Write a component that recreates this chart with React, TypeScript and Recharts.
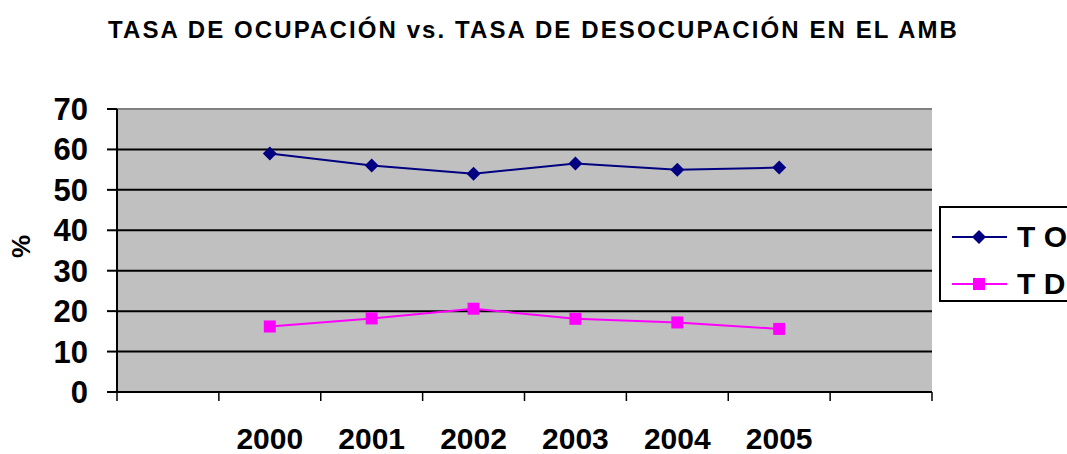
import React from "react";
import {
  LineChart,
  Line,
  XAxis,
  YAxis,
  CartesianGrid,
  ReferenceLine,
} from "recharts";

const years = ["2000", "2001", "2002", "2003", "2004", "2005"];
const tasaOcupacion = [59, 56, 54, 56.5, 55, 55.5];
const tasaDesocupacion = [16.2, 18.2, 20.6, 18.1, 17.2, 15.6];
const yTicks = [0, 10, 20, 30, 40, 50, 60, 70];
// category slots: one empty slot on each side of the six years
const slotEdges = [0, 1, 2, 3, 4, 5, 6, 7, 8];

const FONT = "'Liberation Sans', Arial, sans-serif";
const NAVY = "#000080";
const MAGENTA = "#FF00FF";

const data = years.map((year, i) => ({
  pos: i + 1.5,
  year,
  to: tasaOcupacion[i],
  td: tasaDesocupacion[i],
}));
const yearCenters = data.map((d) => d.pos);

const Diamond = (props: any) => {
  const { cx, cy, index } = props;
  if (cx == null || cy == null) return null;
  const r = 7;
  return (
    <polygon
      key={`d-${index}`}
      points={`${cx},${cy - r} ${cx + r},${cy} ${cx},${cy + r} ${cx - r},${cy}`}
      fill={NAVY}
    />
  );
};

const Square = (props: any) => {
  const { cx, cy, index } = props;
  if (cx == null || cy == null) return null;
  return <rect key={`s-${index}`} x={cx - 6} y={cy - 6} width={12} height={12} fill={MAGENTA} />;
};

export default function App() {
  return (
    <div
      style={{
        position: "absolute",
        left: 0,
        top: 0,
        width: 1067,
        height: 454,
        background: "#fff",
        fontFamily: FONT,
        overflow: "hidden",
      }}
    >
      <div
        style={{
          position: "absolute",
          left: 0,
          width: 1067,
          top: 16,
          textAlign: "center",
          fontWeight: "bold",
          fontSize: 24,
          letterSpacing: 2.1,
          color: "#000",
          whiteSpace: "nowrap",
        }}
      >
        TASA DE OCUPACIÓN vs. TASA DE DESOCUPACIÓN EN EL AMB
      </div>

      <LineChart
        width={1067}
        height={454}
        data={data}
        margin={{ top: 109, right: 135, bottom: 0, left: 0 }}
        style={{ position: "absolute", left: 0, top: 0 }}
      >
        <CartesianGrid
          fill="#C0C0C0"
          stroke="#000"
          strokeWidth={2}
          vertical={false}
        />
        <ReferenceLine y={70} stroke="#808080" strokeWidth={2} />
        <ReferenceLine x={8} stroke="#808080" strokeWidth={2} />
        <XAxis
          xAxisId="slots"
          dataKey="pos"
          type="number"
          domain={[0, 8]}
          ticks={slotEdges}
          interval={0}
          tickFormatter={() => ""}
          tickSize={9}
          height={10}
          axisLine={{ stroke: "#000", strokeWidth: 2 }}
          tickLine={{ stroke: "#000", strokeWidth: 1.5 }}
        />
        <XAxis
          xAxisId="years"
          dataKey="pos"
          type="number"
          domain={[0, 8]}
          ticks={yearCenters}
          tickFormatter={(v: number) => years[Math.round(v - 1.5)] ?? ""}
          axisLine={false}
          tickLine={false}
          tickSize={0}
          tickMargin={26}
          height={52}
          interval={0}
          tick={{ fontSize: 30, fontWeight: "bold", fill: "#000", fontFamily: FONT }}
        />
        <YAxis
          domain={[0, 70]}
          ticks={yTicks}
          width={117}
          interval={0}
          tickSize={10}
          tickMargin={19}
          axisLine={{ stroke: "#000", strokeWidth: 2 }}
          tickLine={{ stroke: "#000", strokeWidth: 2 }}
          tick={{ fontSize: 31, fontWeight: "bold", fill: "#000", fontFamily: FONT }}
          label={(p: any) => {
            const vb = p.viewBox || {};
            const x = (vb.x ?? 0) + 30;
            const y = (vb.y ?? 0) + (vb.height ?? 0) / 2 - 4;
            return (
              <text
                x={x}
                y={y}
                transform={`rotate(-90 ${x} ${y})`}
                textAnchor="middle"
                fontSize={26}
                fontWeight="bold"
                fontFamily={FONT}
                fill="#000"
              >
                %
              </text>
            );
          }}
        />
        <Line
          xAxisId="slots"
          dataKey="to"
          name="T O"
          stroke={NAVY}
          strokeWidth={2}
          dot={Diamond}
          activeDot={false}
          isAnimationActive={false}
        />
        <Line
          xAxisId="slots"
          dataKey="td"
          name="T D"
          stroke={MAGENTA}
          strokeWidth={2}
          dot={Square}
          activeDot={false}
          isAnimationActive={false}
        />
      </LineChart>

      <div
        style={{
          position: "absolute",
          left: 939,
          top: 206,
          width: 140,
          height: 92,
          border: "2px solid #000",
          background: "#fff",
        }}
      >
        {[
          { name: "T O", color: NAVY, shape: "diamond", top: 14 },
          { name: "T D", color: MAGENTA, shape: "square", top: 61 },
        ].map((item) => (
          <div
            key={item.name}
            style={{ position: "absolute", left: 10, top: item.top, height: 30, display: "flex", alignItems: "center" }}
          >
            <svg width={58} height={20} style={{ display: "block" }}>
              <line x1={1} y1={10} x2={56} y2={10} stroke={item.color} strokeWidth={2} />
              {item.shape === "diamond" ? (
                <polygon points="28,3 35,10 28,17 21,10" fill={item.color} />
              ) : (
                <rect x={22} y={4} width={12} height={12} fill={item.color} />
              )}
            </svg>
            <span style={{ marginLeft: 8, fontSize: 30, fontWeight: "bold", whiteSpace: "nowrap", lineHeight: "30px" }}>
              {item.name}
            </span>
          </div>
        ))}
      </div>
    </div>
  );
}
